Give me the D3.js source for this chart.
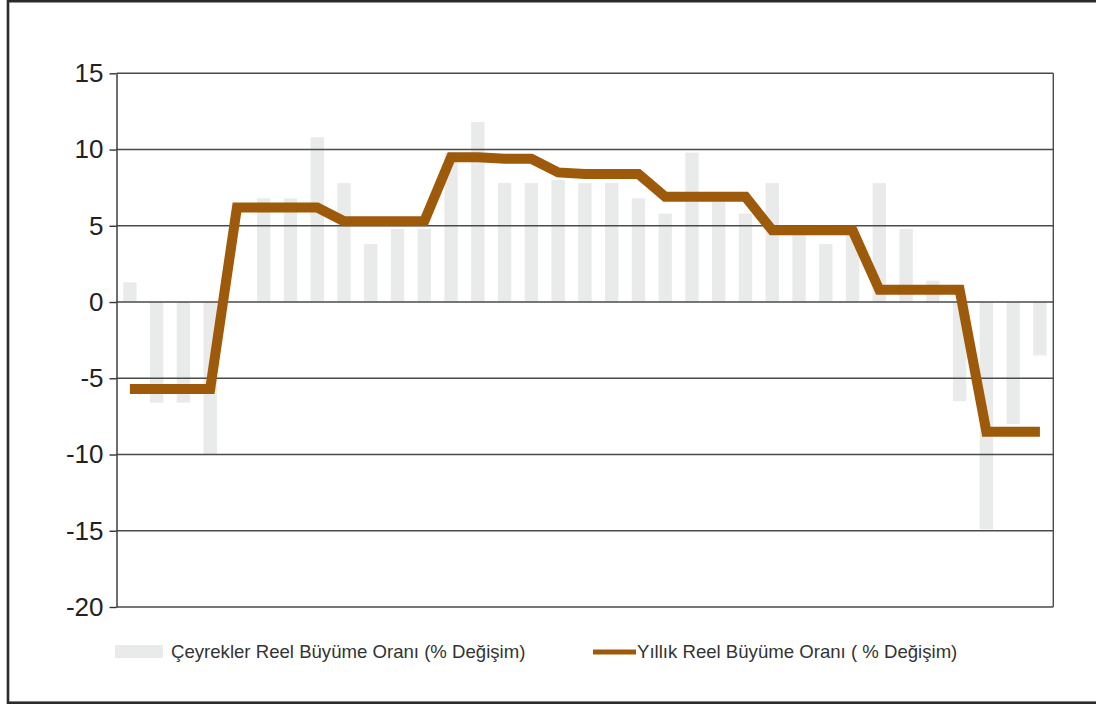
<!DOCTYPE html>
<html lang="tr">
<head>
    <meta charset="UTF-8">
    <title>Reel Büyüme Oranı</title>
    <script src="https://d3js.org/d3.v7.min.js"></script>
    <style>
        body {
            margin: 0;
            font-family: "Liberation Sans", Arial, sans-serif;
            background: #fff;
        }
        .grid line { stroke: #4a4a4a; stroke-width: 1.4px; }
        .tick text { font-size: 26px; fill: #222; }
        .legend text { font-size: 18.6px; fill: #333; }
    </style>
</head>
<body>
    <svg id="chart" width="1096" height="706"></svg>

    <script>
        // 2001 Q1 - 2009 Q3
        const quarters = [
            "2001-1", "2001-2", "2001-3", "2001-4",
            "2002-1", "2002-2", "2002-3", "2002-4",
            "2003-1", "2003-2", "2003-3", "2003-4",
            "2004-1", "2004-2", "2004-3", "2004-4",
            "2005-1", "2005-2", "2005-3", "2005-4",
            "2006-1", "2006-2", "2006-3", "2006-4",
            "2007-1", "2007-2", "2007-3", "2007-4",
            "2008-1", "2008-2", "2008-3", "2008-4",
            "2009-1", "2009-2", "2009-3"
        ];

        // quarterly real growth (bars)
        const quarterlyGrowth = [
            1.3, -6.6, -6.6, -10.0,
            0, 6.8, 6.8, 10.8,
            7.8, 3.8, 4.8, 4.8,
            9.8, 11.8, 7.8, 7.8,
            8.0, 7.8, 7.8, 6.8,
            5.8, 9.8, 6.6, 5.8,
            7.8, 4.5, 3.8, 4.6,
            7.8, 4.8, 1.4, -6.5,
            -14.9, -8.0, -3.5
        ];

        // annual real growth, drawn at each quarter (line)
        const annualGrowth = [
            -5.7, -5.7, -5.7, -5.7,
            6.2, 6.2, 6.2, 6.2,
            5.3, 5.3, 5.3, 5.3,
            9.5, 9.5, 9.4, 9.4,
            8.5, 8.4, 8.4, 8.4,
            6.9, 6.9, 6.9, 6.9,
            4.7, 4.7, 4.7, 4.7,
            0.8, 0.8, 0.8, 0.8,
            -8.5, -8.5, -8.5
        ];

        const yTicks = [15, 10, 5, 0, -5, -10, -15, -20];

        const legendLabels = [
            "Çeyrekler Reel Büyüme Oranı (% Değişim)",
            "Yıllık Reel Büyüme Oranı ( % Değişim)"
        ];

        const barColor = "#e9eaea";
        const lineColor = "#9e5a0b";

        const plot = {left: 116.5, right: 1053.3, top: 73.3, bottom: 607};

        const svg = d3.select("#chart");

        // outer frame
        svg.append("rect")
            .attr("x", 8)
            .attr("y", 1.2)
            .attr("width", 1100)
            .attr("height", 701.5)
            .attr("fill", "none")
            .attr("stroke", "#2b2b2b")
            .attr("stroke-width", 2.6);

        const x = d3.scaleBand()
            .domain(quarters)
            .range([plot.left, plot.right])
            .paddingInner(0.5)
            .paddingOuter(0.25);

        const y = d3.scaleLinear()
            .domain([-20, 15])
            .range([plot.bottom, plot.top]);

        // bars
        svg.append("g")
            .selectAll("rect")
            .data(quarterlyGrowth)
            .join("rect")
            .attr("x", (d, i) => x(quarters[i]))
            .attr("width", x.bandwidth())
            .attr("y", d => y(Math.max(0, d)))
            .attr("height", d => Math.abs(y(d) - y(0)))
            .attr("fill", barColor);

        // gridlines
        svg.append("g")
            .attr("class", "grid")
            .selectAll("line")
            .data(yTicks)
            .join("line")
            .attr("x1", plot.left)
            .attr("x2", plot.right)
            .attr("y1", d => y(d))
            .attr("y2", d => y(d));

        // y axis (plain hyphen for negatives, like the original)
        const yAxis = svg.append("g")
            .attr("transform", `translate(${plot.left},0)`)
            .call(d3.axisLeft(y)
                .tickValues(yTicks)
                .tickFormat(d => String(d))
                .tickSize(7)
                .tickPadding(6)
                .tickSizeOuter(0));
        yAxis.select(".domain").attr("stroke", "#333").attr("stroke-width", 1.4);
        yAxis.selectAll(".tick line").attr("stroke", "#333").attr("stroke-width", 1.4);
        yAxis.selectAll(".tick text").attr("font-family", "Liberation Sans, Arial, sans-serif");

        // right border of plot
        svg.append("line")
            .attr("x1", plot.right).attr("x2", plot.right)
            .attr("y1", plot.top).attr("y2", plot.bottom)
            .attr("stroke", "#4a4a4a")
            .attr("stroke-width", 1.4);

        // annual line
        const line = d3.line()
            .x((d, i) => x(quarters[i]) + x.bandwidth() / 2)
            .y(d => y(d));

        svg.append("path")
            .datum(annualGrowth)
            .attr("d", line)
            .attr("fill", "none")
            .attr("stroke", lineColor)
            .attr("stroke-width", 10)
            .attr("stroke-linejoin", "miter")
            .attr("stroke-linecap", "butt");

        // legend
        const legend = svg.append("g").attr("class", "legend");

        legend.append("rect")
            .attr("x", 115).attr("y", 645)
            .attr("width", 48).attr("height", 13)
            .attr("fill", barColor);

        legend.append("text")
            .attr("x", 171).attr("y", 658)
            .text(legendLabels[0]);

        legend.append("line")
            .attr("x1", 593).attr("x2", 636)
            .attr("y1", 652).attr("y2", 652)
            .attr("stroke", lineColor)
            .attr("stroke-width", 5);

        legend.append("text")
            .attr("x", 637).attr("y", 658)
            .text(legendLabels[1]);
    </script>
</body>
</html>
